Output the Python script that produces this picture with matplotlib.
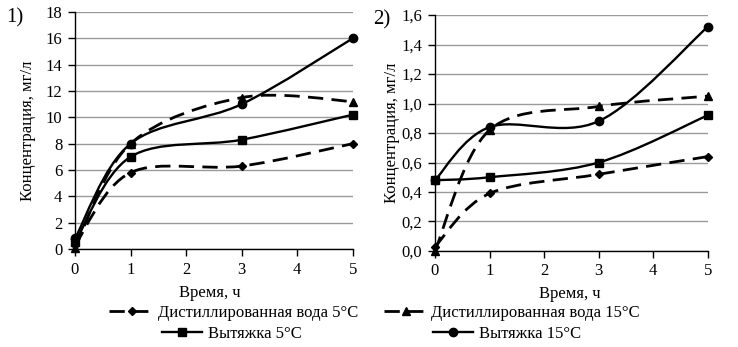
import numpy as np
import matplotlib
matplotlib.use("Agg")
import matplotlib.pyplot as plt
from matplotlib.path import Path
from matplotlib.patches import PathPatch
from matplotlib.lines import Line2D

plt.rcParams['font.family'] = ['Liberation Serif', 'DejaVu Serif']

time_h = [0, 1, 3, 5]
series_names = ["Дистиллированная вода 5°C", "Дистиллированная вода 15°C",
                "Вытяжка 5°C", "Вытяжка 15°C"]
# Panel 1
p1_dist5 = [0.3, 5.8, 6.3, 8.0]
p1_dist15 = [0.1, 8.0, 11.5, 11.2]
p1_ext5 = [0.5, 7.0, 8.3, 10.2]
p1_ext15 = [0.8, 8.0, 11.0, 16.0]
# Panel 2
p2_dist5 = [0.03, 0.39, 0.52, 0.64]
p2_dist15 = [0.0, 0.82, 0.98, 1.05]
p2_ext5 = [0.48, 0.50, 0.60, 0.92]
p2_ext15 = [0.48, 0.84, 0.88, 1.52]

p1_yticks = [0, 2, 4, 6, 8, 10, 12, 14, 16, 18]
p2_yticks = [0.0, 0.2, 0.4, 0.6, 0.8, 1.0, 1.2, 1.4, 1.6]
p2_ytick_labels = ["0,0", "0,2", "0,4", "0,6", "0,8", "1,0", "1,2", "1,4", "1,6"]
x_ticks = [0, 1, 2, 3, 4, 5]

styles = [
    dict(ls=(0, (5.5, 3)), marker='D', ms=4.5, lw=2.0),
    dict(ls=(0, (5.5, 3)), marker='^', ms=6, lw=2.0),
    dict(ls='-', marker='s', ms=6, lw=1.7),
    dict(ls='-', marker='o', ms=6, lw=1.7),
]


def smooth_path(x, y):
    # Bezier smoothing (Catmull-Rom style, like spreadsheet "smoothed line")
    pts = np.column_stack([x, y]).astype(float)
    n = len(pts)
    verts = [pts[0]]
    codes = [Path.MOVETO]
    for i in range(n - 1):
        p0 = pts[i - 1] if i > 0 else pts[i]
        p1 = pts[i]
        p2 = pts[i + 1]
        p3 = pts[i + 2] if i + 2 < n else pts[i + 1]
        c1 = p1 + (p2 - p0) / 6.0
        c2 = p2 - (p3 - p1) / 6.0
        verts += [c1, c2, p2]
        codes += [Path.CURVE4] * 3
    return Path(verts, codes)


fig = plt.figure(figsize=(7.38, 3.47), dpi=100)
ax1 = fig.add_axes([0.1016, 0.2824, 0.3764, 0.683])
ax2 = fig.add_axes([0.5894, 0.2767, 0.3696, 0.680])

panels = [
    (ax1, [p1_dist5, p1_dist15, p1_ext5, p1_ext15], (0, 18), p1_yticks,
     [str(t) for t in p1_yticks], 7, 0.485),
    (ax2, [p2_dist5, p2_dist15, p2_ext5, p2_ext15], (0, 1.6), p2_yticks,
     p2_ytick_labels, 1, 0.495),
]

for ax, data, ylim, yt, ytl, lp, xlx in panels:
    for vals, st in zip(data, styles):
        patch = PathPatch(smooth_path(time_h, vals), facecolor='none',
                          edgecolor='black', lw=st['lw'], linestyle=st['ls'],
                          clip_on=False, zorder=3)
        ax.add_patch(patch)
        ax.plot(time_h, vals, ls='none', marker=st['marker'], ms=st['ms'],
                color='black', clip_on=False, zorder=4)
    ax.set_xlim(0, 5)
    ax.set_ylim(*ylim)
    ax.set_yticks(yt)
    ax.set_yticklabels(ytl)
    ax.set_xticks(x_ticks)
    ax.yaxis.grid(True, color='#9a9a9a', lw=1.0)
    ax.set_axisbelow(True)
    for s in ['top', 'right']:
        ax.spines[s].set_visible(False)
    for s in ['left', 'bottom']:
        ax.spines[s].set_color('black')
        ax.spines[s].set_linewidth(1.0)
    ax.tick_params(axis='both', direction='out', length=5, width=1,
                   labelsize=12, colors='black', pad=4)
    ax.set_xlabel("Время, ч", fontsize=12)
    ax.xaxis.set_label_coords(xlx, -0.15)
    ax.set_ylabel("Концентрация, мг/л", fontsize=12, labelpad=lp)

fig.text(0.008, 0.935, "1)", fontsize=15)
fig.text(0.505, 0.930, "2)", fontsize=15)

handles = []
for st in styles:
    handles.append(Line2D([], [], color='black', ls=st['ls'], lw=st['lw'],
                          marker=st['marker'], ms=st['ms']))

# legend entries laid out like the reference (two rows, two columns)
# (handle start x px, row centre y px, handle length, text pad)
legend_layout = [(109, 313, 2.75, 0.2), (384, 313, 2.6, 0.2),
                 (162, 334, 2.4, 0.36), (433, 334, 2.4, 0.36)]
W, H = 738.0, 347.0
for h, name, (px, py, hl, tp) in zip(handles, series_names, legend_layout):
    fig.legend([h], [name], loc='center left',
               bbox_to_anchor=(px / W, 1 - py / H),
               frameon=False, fontsize=12, handlelength=hl,
               handletextpad=tp, borderaxespad=0.0, borderpad=0.0)

fig.savefig("out.png", dpi=100)
